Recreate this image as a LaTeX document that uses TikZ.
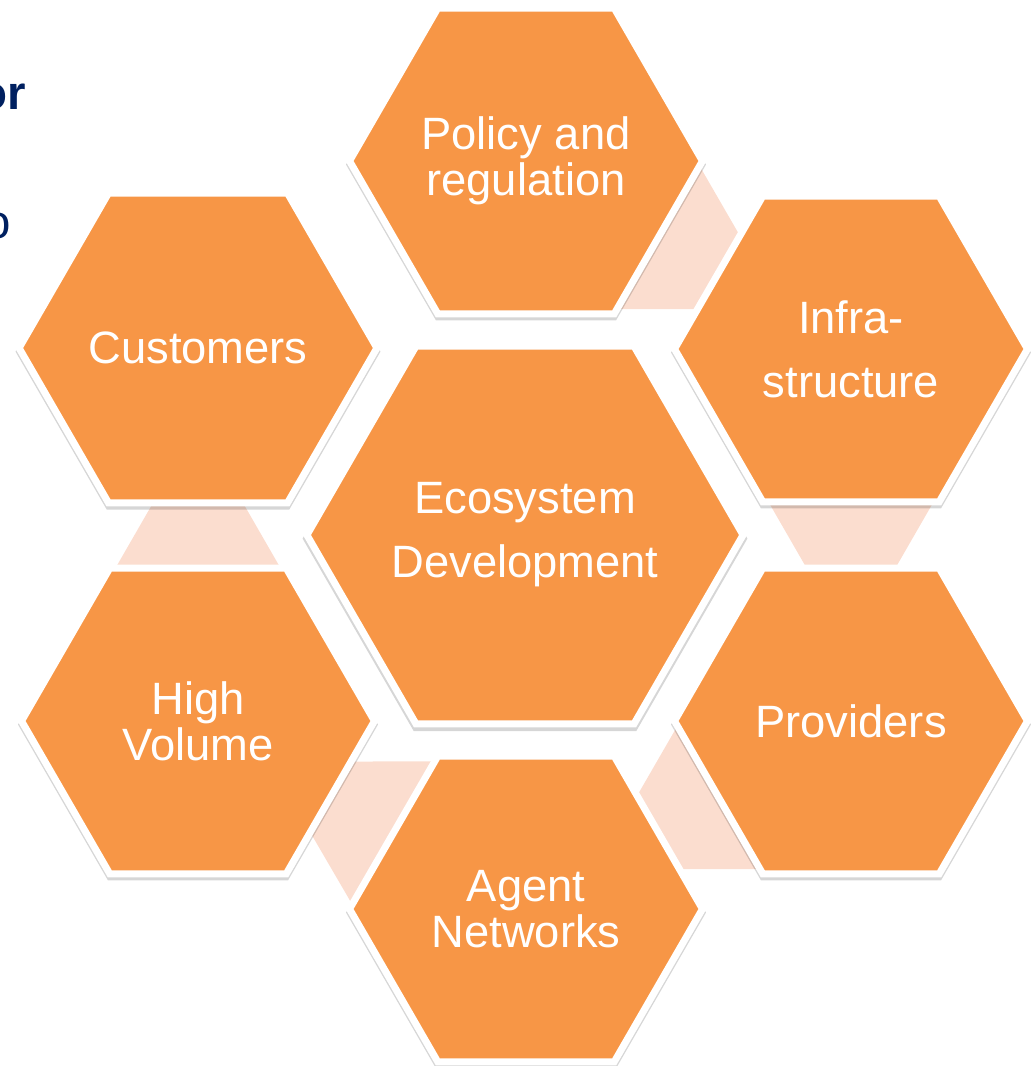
\documentclass[tikz,border=0pt]{standalone}
\usepackage{fontspec}
\setmainfont{Liberation Sans}
\usetikzlibrary{shapes.geometric,shadows,calc,backgrounds}
\definecolor{hexorange}{RGB}{247,150,70}
\definecolor{linkpink}{RGB}{251,221,207}
\definecolor{titleblue}{RGB}{0,32,96}

\begin{document}
\begin{tikzpicture}[x=0.02cm, y=0.02cm,
    hexa/.style={regular polygon, regular polygon sides=6, minimum size=7.06cm,
      inner sep=0pt, fill=hexorange, draw=white, line width=0.14cm, text=white,
      align=center, font=\fontsize{25.8}{26.2}\selectfont,
      drop shadow={shadow xshift=0cm, shadow yshift=-0.07cm, shadow scale=1.02,
        opacity=0.16, fill=black}}]
    \useasboundingbox (0,0) rectangle (1033,1066);

    % cut-off heading text at the left edge
    \begin{scope}
      \clip (0,0) rectangle (1033,1066);
      \node[anchor=base east, inner sep=0pt, font=\fontsize{27}{30}\selectfont\bfseries, titleblue] (headA) at (26,956) {or};
      \node[anchor=base east, inner sep=0pt, font=\fontsize{27}{30}\selectfont, titleblue] (headB) at (11,827) {o};
    \end{scope}

    % centre hexagon
    \node[hexa, minimum size=8.6cm, font=\fontsize{25.8}{36.4}\selectfont] (eco) at (525,531) {Ecosystem\\Development};

    % ring of hexagons
    \node[hexa] (policy) at (526,905) {Policy and\\regulation};
    \node[hexa, font=\fontsize{25.8}{36.4}\selectfont] (infra) at (851,717) {Infra-\\structure};
    \node[hexa] (prov) at (851,345) {Providers};
    \node[hexa] (agent) at (526,157) {Agent\\Networks};
    \node[hexa] (highvol) at (198,345) {High\\Volume};
    \node[hexa] (cust) at (198,718) {Customers};

    % pale links behind the ring
    \begin{scope}[on background layer]
      \foreach \a/\b in {policy/infra, infra/prov, prov/agent, agent/highvol, highvol/cust} {
        \fill[linkpink] ($(\a)!2.8cm!(\b)!1.8cm!90:(\b)$) -- ($(\a)!4.64cm!(\b)!0.74cm!90:(\b)$)
          -- ($(\a)!4.64cm!(\b)!0.74cm!-90:(\b)$) -- ($(\a)!2.8cm!(\b)!1.8cm!-90:(\b)$) -- cycle;
      }
    \end{scope}
\end{tikzpicture}
\end{document}
